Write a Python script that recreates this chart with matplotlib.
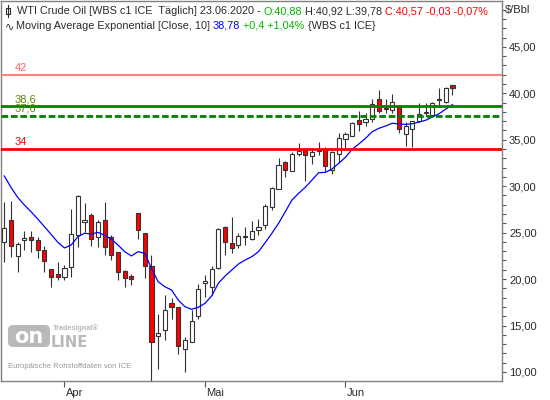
import matplotlib
matplotlib.use("Agg")
import matplotlib.pyplot as plt
from matplotlib.patches import FancyBboxPatch
from matplotlib.ticker import MultipleLocator
import matplotlib.transforms as mtransforms

# Kerzen WTI Crude Oil (19.03. - 23.06.2020)
opens = [23.96, 26.33, 22.45, 24.25, 24.50, 24.17, 23.13, 21.05, 20.52, 20.19,
         21.27, 24.74, 26.11, 26.87, 24.50, 26.33, 24.50, 22.88, 20.87, 20.30,
         27.08, 24.93, 21.38, 13.90, 14.49, 17.39, 16.96, 12.44, 13.20, 15.99,
         19.55, 19.12, 21.22, 25.57, 23.85, 23.64, 24.50, 24.28, 25.25, 25.79,
         27.73, 29.66, 32.57, 31.60, 33.43, 33.86, 33.22, 33.80, 33.97, 31.71,
         33.43, 35.05, 35.37, 37.09, 36.88, 37.20, 39.35, 38.35, 38.17, 38.49,
         35.58, 36.12, 36.98, 37.84, 37.63, 39.25, 39.03, 40.88]
highs = [28.26, 28.40, 24.00, 25.18, 25.18, 24.56, 23.56, 21.05, 21.81, 21.52,
         27.54, 29.05, 28.16, 27.15, 26.36, 28.30, 24.74, 22.90, 20.95, 20.55,
         27.10, 25.00, 22.56, 16.24, 18.29, 17.96, 16.96, 13.77, 16.67, 19.44,
         20.44, 21.38, 25.47, 25.68, 26.65, 24.93, 25.57, 26.22, 26.43, 28.05,
         29.88, 33.00, 32.68, 33.65, 34.62, 33.97, 33.97, 34.72, 34.19, 33.75,
         35.69, 35.80, 36.94, 38.06, 37.84, 39.35, 40.32, 39.35, 39.89, 38.74,
         36.94, 37.00, 38.92, 38.92, 39.03, 40.54, 40.64, 40.92]
lows = [21.81, 22.34, 20.80, 23.10, 22.90, 22.30, 20.80, 19.18, 19.90, 19.87,
        20.26, 23.50, 25.10, 23.53, 23.49, 22.59, 22.05, 19.87, 19.18, 19.40,
        24.35, 20.15, 8.90, 10.29, 13.41, 15.67, 11.90, 10.03, 13.20, 15.67,
        18.04, 18.25, 21.12, 22.56, 22.84, 23.31, 23.64, 24.17, 24.71, 25.36,
        27.40, 29.66, 31.02, 31.60, 33.22, 30.59, 32.42, 33.32, 31.60, 31.28,
        32.46, 34.08, 35.37, 35.91, 36.45, 36.88, 37.84, 37.84, 37.84, 35.70,
        34.29, 34.19, 36.88, 37.52, 37.52, 38.49, 38.92, 39.78]
closes = [25.47, 23.53, 23.74, 24.40, 24.17, 23.16, 21.91, 20.26, 20.19, 21.16,
          24.82, 28.91, 26.33, 24.28, 26.11, 23.42, 22.56, 20.73, 20.08, 19.98,
          25.25, 21.38, 13.20, 14.16, 16.64, 16.96, 12.80, 13.41, 15.46, 18.90,
          19.76, 21.05, 25.36, 23.96, 23.31, 24.60, 24.56, 25.14, 25.57, 27.83,
          29.77, 32.25, 31.71, 33.43, 33.75, 33.32, 33.65, 33.90, 32.14, 33.65,
          35.15, 35.58, 36.77, 36.66, 37.20, 38.81, 38.06, 38.40, 39.03, 36.12,
          36.45, 36.98, 37.74, 37.95, 38.92, 39.30, 40.54, 40.57]
# EMA 10
ema10 = [31.10, 29.88, 28.80, 27.97, 27.25, 26.47, 25.64, 24.82, 23.96, 23.35,
         23.67, 24.56, 24.93, 24.85, 25.03, 24.71, 24.30, 23.67, 22.95, 22.49,
         22.95, 22.77, 21.16, 19.72, 19.18, 18.82, 17.75, 17.03, 16.75, 16.96,
         17.39, 18.18, 19.55, 20.33, 20.97, 21.62, 22.05, 22.41, 22.95, 23.92,
         24.93, 26.00, 27.25, 28.51, 29.23, 29.88, 30.67, 31.45, 31.49, 31.85,
         32.46, 33.11, 33.97, 34.54, 35.15, 35.86, 36.23, 36.48, 36.77, 36.70,
         36.65, 36.72, 36.90, 37.10, 37.45, 37.80, 38.30, 38.78]

level_values = [42, 38.6, 37.6, 34]
level_labels = ["42", "38,6", "37,6", "34"]
level_colors = ["#ff7f7f", "#008000", "#008000", "#ff0000"]
level_text_colors = ["#ff6060", "#5a8a00", "#5a8a00", "#ff0000"]
level_styles = ["-", "-", (0, (2.4, 1.0)), "-"]
level_widths = [1.5, 2.0, 2.0, 2.0]

month_labels = ["Apr", "Mai", "Jun"]
month_starts = [9, 30, 51]
y_ticks = [10, 15, 20, 25, 30, 35, 40, 45]

W, H = 550, 400
DARK = "#2b2b2b"
FRAME = "#808080"
LEG_FS = 7.8
plt.rcParams["font.family"] = ["Liberation Sans", "DejaVu Sans"]

fig = plt.figure(figsize=(W / 100, H / 100), dpi=100)
ax = fig.add_axes([1 / W, 19 / H, 501 / W, 380 / H])
ax.set_xlim(-0.49, 74.4)
ax.set_ylim(9.03, 49.93)

# Kerzen
xs = list(range(len(closes)))
ax.vlines(xs, lows, highs, color="#333333", lw=0.8, zorder=3)
bottoms = []
heights = []
fills = []
for o, c in zip(opens, closes):
    h = c - o
    if abs(h) < 0.1:
        h = 0.1 if h >= 0 else -0.1
    bottoms.append(o)
    heights.append(h)
    fills.append("white" if c >= o else "#ff0000")
ax.bar(xs, heights, bottom=bottoms, width=0.62, color=fills,
       edgecolor="#333333", linewidth=0.8, zorder=4)

ax.plot(xs, ema10, color="#0000ff", lw=0.9, zorder=5)

# Horizontale Linien
lab_tr = mtransforms.blended_transform_factory(ax.transAxes, ax.transData)
for v, lab, col, tcol, ls, lw in zip(level_values, level_labels, level_colors,
                                     level_text_colors, level_styles, level_widths):
    ax.axhline(v, color=col, lw=lw, ls=ls, zorder=6)
    ax.annotate(lab, xy=(14 / 501, v), xycoords=lab_tr, xytext=(0, 1.5),
                textcoords="offset points", va="bottom", ha="left",
                fontsize=8, color=tcol, zorder=7)

# Achsen
for s in ax.spines.values():
    s.set_color(FRAME)
    s.set_linewidth(1)
ax.yaxis.tick_right()
ax.set_yticks(y_ticks)
ax.set_yticklabels([f"{v:.2f}".replace(".", ",") for v in y_ticks])
ax.yaxis.set_minor_locator(MultipleLocator(1))
ax.tick_params(axis="y", which="both", direction="out", length=3, width=0.8,
               color="#555555", pad=2, labelsize=8, labelcolor=DARK)
ax.set_xticks(month_starts)
ax.set_xticklabels(month_labels)
ax.tick_params(axis="x", direction="out", length=4, width=0.8, color="#555555",
               pad=1, labelsize=8, labelcolor=DARK)
shift = mtransforms.ScaledTranslation(1 / 100, 0, fig.dpi_scale_trans)
for t in ax.get_xticklabels():
    t.set_ha("left")
    t.set_transform(t.get_transform() + shift)

fig.text(505 / W, 1 - 10 / H, "$/Bbl", fontsize=8, color=DARK, va="center")


# Legende oben links: farbige Stuecke hintereinander
def chain(x, y, parts):
    prev = fig.text(x / W, 1 - y / H, parts[0][0], color=parts[0][1],
                    fontsize=LEG_FS, va="center", ha="left")
    for s, c in parts[1:]:
        prev = fig.add_artist(plt.Annotation(s, xy=(1, 0), xycoords=prev,
                                             va="bottom", ha="left", color=c,
                                             fontsize=LEG_FS, annotation_clip=False))


chain(17, 11, [("WTI Crude Oil [WBS c1 ICE  Täglich] 23.06.2020 - ", DARK),
               ("O:40,88", "#00b400"),
               (" H:40,92 L:39,78 ", DARK),
               ("C:40,57 -0,03 -0,07%", "#ff0000")])
chain(16, 26, [("Moving Average Exponential [Close, 10] ", DARK),
               ("38,78", "#0000ff"),
               (" +0,4 +1,04%", "#00b400"),
               (" {WBS c1 ICE}", DARK)])
fig.text(5 / W, 1 - 26 / H, "∿", fontsize=8, color=DARK, va="center", ha="left",
         family=["DejaVu Sans"])

# kleines Kerzen-Symbol
px = mtransforms.IdentityTransform()
fig.add_artist(plt.Line2D([8, 8], [H - 5, H - 17], transform=px, color=DARK, lw=0.8))
fig.add_artist(plt.Rectangle((6, H - 14), 4, 6, transform=px, fc="white",
                             ec=DARK, lw=0.8))

# Wasserzeichen
fig.add_artist(FancyBboxPatch((8, H - 347), 42, 22, transform=px,
                              boxstyle="round,pad=0,rounding_size=5",
                              fc="#b9b9b9", ec="none"))
fig.text(29 / W, 1 - 337 / H, "on", fontsize=15, fontweight="bold",
         color="white", ha="center", va="center", family=["DejaVu Sans"])
fig.text(51 / W, 1 - 347 / H, "LINE", fontsize=10.5, fontweight="bold",
         color="#b9b9b9", ha="left", va="baseline", family=["DejaVu Sans"])
fig.text(53 / W, 1 - 328 / H, "Tradesignal®", fontsize=5.2, fontweight="bold",
         color="#b9b9b9", ha="left", va="center")
fig.text(8 / W, 1 - 366 / H, "Europäische Rohstoffdaten von ICE", fontsize=5.6,
         color="#999999", ha="left", va="center")

fig.savefig("out.png", dpi=100, facecolor="white")
